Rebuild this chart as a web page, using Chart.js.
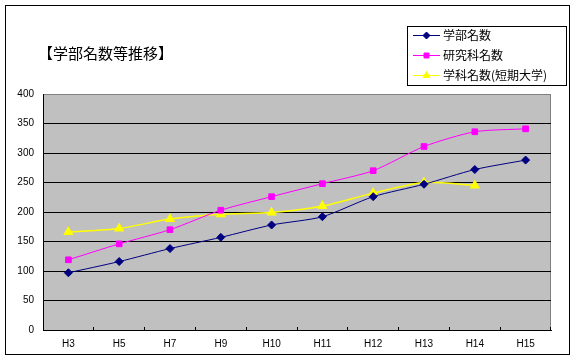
<!DOCTYPE html>
<html>
<head>
<meta charset="utf-8">
<script src="https://cdn.jsdelivr.net/npm/chart.js@4/dist/chart.umd.min.js"></script>
<style>
  body { margin: 0; background: #fff; }
  canvas { display: block; }
</style>
</head>
<body>
<canvas id="chart" width="576" height="361"></canvas>
<script>
// 年度
const years = ['H3', 'H5', 'H7', 'H9', 'H10', 'H11', 'H12', 'H13', 'H14', 'H15'];
// 学部名数
const gakubu = [97, 116, 138, 157, 178, 192, 226, 247, 272, 288];
// 研究科名数
const kenkyuka = [119, 146, 170, 203, 226, 248, 270, 311, 336, 341];
// 学科名数(短期大学)
const tandai = [166, 172, 188, 196, 199, 210, 232, 250, 245, null];
const yTicks = [0, 50, 100, 150, 200, 250, 300, 350, 400];

const chartTitle = '【学部名数等推移】';
const jpFont = '"Noto Sans CJK JP", sans-serif';

// frame, plot background, title and boxed legend (Excel style)
const excelLook = {
    id: 'excelLook',
    beforeDraw(chart) {
        const ctx = chart.ctx;
        const a = chart.chartArea;
        ctx.save();
        ctx.fillStyle = '#fff';
        ctx.fillRect(0, 0, chart.width, chart.height);
        ctx.strokeStyle = '#000';
        ctx.lineWidth = 1;
        ctx.strokeRect(5.5, 5.5, 564, 349);
        ctx.fillStyle = '#c0c0c0';
        ctx.fillRect(a.left, a.top, a.right - a.left, a.bottom - a.top);
        ctx.strokeStyle = '#808080';
        ctx.beginPath();
        ctx.moveTo(a.left, a.top + 0.5);
        ctx.lineTo(a.right - 0.5, a.top + 0.5);
        ctx.lineTo(a.right - 0.5, a.bottom);
        ctx.stroke();
        ctx.restore();
    },
    afterDraw(chart) {
        const ctx = chart.ctx;
        ctx.save();
        ctx.fillStyle = '#000';
        ctx.font = '15px ' + jpFont;
        ctx.textBaseline = 'middle';
        ctx.fillText(chartTitle, 38, 53);

        // legend box
        ctx.strokeStyle = '#000';
        ctx.lineWidth = 1;
        ctx.strokeRect(407.5, 26.5, 159, 59);
        ctx.font = '12px ' + jpFont;
        chart.data.datasets.forEach((ds, i) => {
            const y = 35.5 + i * 20;
            ctx.strokeStyle = ds.borderColor;
            ctx.lineWidth = 1;
            ctx.beginPath();
            ctx.moveTo(413, y);
            ctx.lineTo(440, y);
            ctx.stroke();
            ctx.fillStyle = ds.pointBackgroundColor;
            ctx.strokeStyle = ds.pointBorderColor;
            Chart.helpers.drawPoint(ctx, {
                pointStyle: ds.pointStyle,
                radius: ds.pointRadius - 0.5,
                borderWidth: 1
            }, 426.5, y);
            ctx.fillStyle = '#000';
            ctx.fillText(ds.label, 443, y);
        });
        ctx.restore();
    }
};

new Chart(document.getElementById('chart'), {
    type: 'line',
    data: {
        labels: years,
        datasets: [
            {
                label: '学部名数',
                data: gakubu,
                borderColor: '#000080',
                backgroundColor: '#000080',
                pointBackgroundColor: '#000080',
                pointBorderColor: '#000080',
                pointStyle: 'rectRot',
                pointRadius: 4,
                borderWidth: 1,
                tension: 0.25
            },
            {
                label: '研究科名数',
                data: kenkyuka,
                borderColor: '#ff00ff',
                backgroundColor: '#ff00ff',
                pointBackgroundColor: '#ff00ff',
                pointBorderColor: '#ff00ff',
                pointStyle: 'rect',
                pointRadius: 4,
                borderWidth: 1,
                tension: 0.25
            },
            {
                label: '学科名数(短期大学)',
                data: tandai,
                borderColor: '#ffff00',
                backgroundColor: '#ffff00',
                pointBackgroundColor: '#ffff00',
                pointBorderColor: '#ffff00',
                pointStyle: 'triangle',
                pointRadius: 4.5,
                borderWidth: 1.5,
                tension: 0.25
            }
        ]
    },
    options: {
        responsive: false,
        animation: false,
        layout: {
            padding: { top: 94, left: 13, right: 25, bottom: 11 }
        },
        plugins: {
            legend: { display: false },
            title: { display: false },
            tooltip: { enabled: false }
        },
        scales: {
            x: {
                offset: true,
                afterFit(scale) { scale.height = 20; },
                border: { color: '#000', width: 1 },
                grid: {
                    offset: true,
                    drawOnChartArea: false,
                    drawTicks: true,
                    tickLength: -3,
                    color: '#000'
                },
                ticks: {
                    color: '#000',
                    padding: 11,
                    maxRotation: 0,
                    font: { family: '"Liberation Sans", Arial, sans-serif', size: 10 }
                }
            },
            y: {
                min: 0,
                max: 400,
                afterFit(scale) { scale.width = 30; },
                afterBuildTicks(scale) {
                    scale.ticks = yTicks.map(v => ({ value: v }));
                },
                border: { color: '#000', width: 1 },
                grid: {
                    drawTicks: false,
                    color: c => (c.tick && c.tick.value === 400) ? '#808080' : '#000'
                },
                ticks: {
                    color: '#000',
                    padding: 9,
                    font: { family: '"Liberation Sans", Arial, sans-serif', size: 10 }
                }
            }
        }
    },
    plugins: [excelLook]
});
</script>
</body>
</html>
